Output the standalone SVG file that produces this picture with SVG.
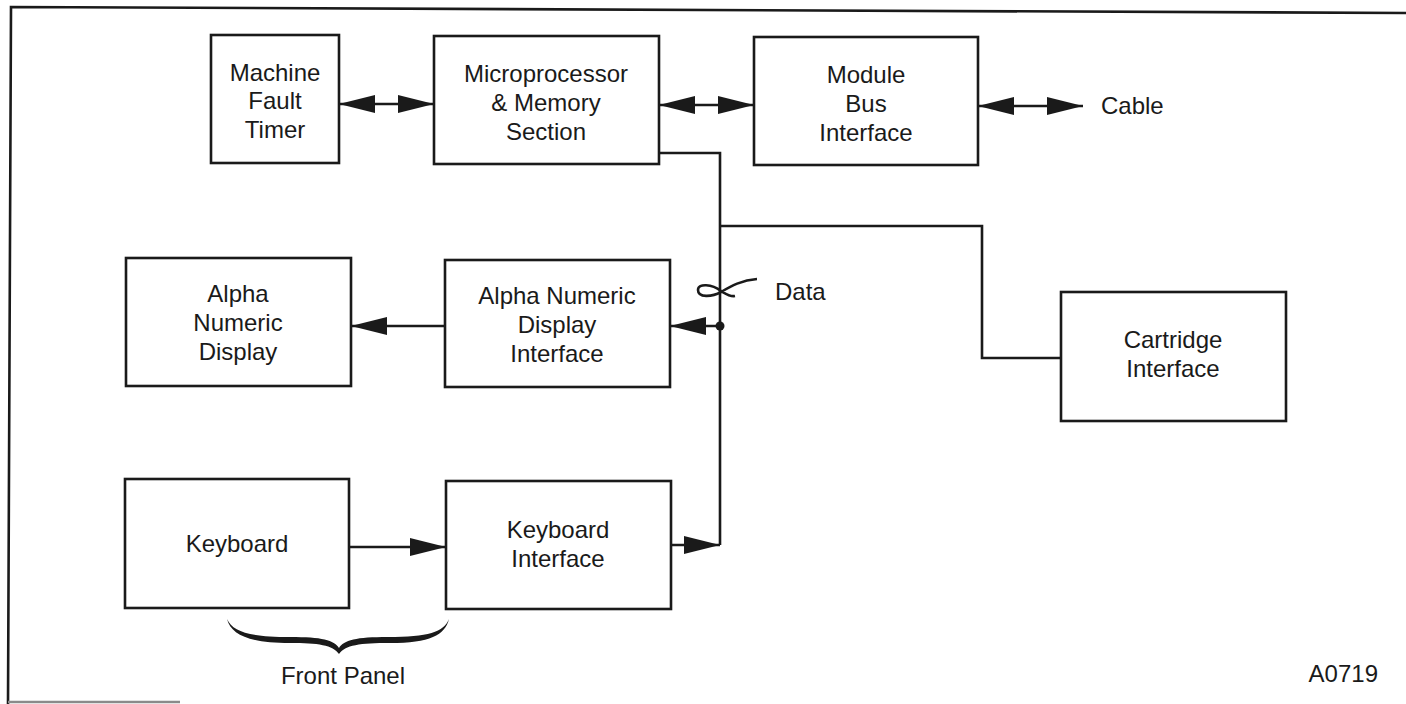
<svg xmlns="http://www.w3.org/2000/svg" width="1406" height="704" viewBox="0 0 1406 704">
<style>
  .box { fill: #ffffff; stroke: #1a1a1a; stroke-width: 2.6; }
  .lbl { font-family: "Liberation Sans", Arial, Helvetica, sans-serif; font-size: 24px; fill: #1a1a1a; text-anchor: middle; }
  .free { font-family: "Liberation Sans", Arial, Helvetica, sans-serif; font-size: 24px; fill: #1a1a1a; }
  .wire { fill: none; stroke: #1a1a1a; stroke-width: 2.6; }
</style>
<defs>
  <marker id="ah" markerUnits="userSpaceOnUse" markerWidth="37" markerHeight="20" refX="36" refY="10" orient="auto-start-reverse" viewBox="0 0 37 20">
    <path d="M0,1 L36,10 L0,19 Z" fill="#1a1a1a"/>
  </marker>
</defs>
<rect width="1406" height="704" fill="#ffffff"/>

<g id="frame" fill="none" stroke="#1a1a1a" stroke-width="2.6">
  <path d="M8,704 L11,7 L1406,13"/>
  <path d="M8,702 L180,702" stroke="#8a8a8a" stroke-width="2.4"/>
</g>

<g id="connectors">
  <path class="wire" d="M339,104 H434" marker-start="url(#ah)" marker-end="url(#ah)"/>
  <path class="wire" d="M659,105 H754" marker-start="url(#ah)" marker-end="url(#ah)"/>
  <path class="wire" d="M978,106 H1083" marker-start="url(#ah)" marker-end="url(#ah)"/>
  <path class="wire" d="M445,326 H351" marker-end="url(#ah)"/>
  <path class="wire" d="M720,326 H670" marker-end="url(#ah)"/>
  <circle cx="720" cy="326" r="4.5" fill="#1a1a1a"/>
  <path class="wire" d="M349,547 H446" marker-end="url(#ah)"/>
  <path class="wire" d="M671,545 H720" marker-end="url(#ah)"/>
  <path class="wire" d="M659,153 H720 V545"/>
  <path class="wire" d="M720,226 H982 V358 H1061"/>
  <path class="wire" stroke-width="2.4" d="M757,279 C742,280 731,286 721,292 C712,297 698,298 698,290 C698,283 712,284 721,291 C726,294 730,297 735,296"/>
  <text class="free" x="775" y="300">Data</text>
  <text class="free" x="1101" y="114">Cable</text>
</g>

<g id="mft">
  <rect class="box" x="211" y="35" width="128" height="128"/>
  <text class="lbl" x="275" y="81">Machine</text>
  <text class="lbl" x="275" y="109">Fault</text>
  <text class="lbl" x="275" y="138">Timer</text>
</g>
<g id="micro">
  <rect class="box" x="434" y="36" width="225" height="128"/>
  <text class="lbl" x="546" y="82">Microprocessor</text>
  <text class="lbl" x="546" y="111">&amp; Memory</text>
  <text class="lbl" x="546" y="140">Section</text>
</g>
<g id="module">
  <rect class="box" x="754" y="37" width="224" height="128"/>
  <text class="lbl" x="866" y="83">Module</text>
  <text class="lbl" x="866" y="112">Bus</text>
  <text class="lbl" x="866" y="141">Interface</text>
</g>
<g id="and">
  <rect class="box" x="126" y="258" width="225" height="128"/>
  <text class="lbl" x="238" y="302">Alpha</text>
  <text class="lbl" x="238" y="331">Numeric</text>
  <text class="lbl" x="238" y="360">Display</text>
</g>
<g id="andi">
  <rect class="box" x="445" y="260" width="225" height="127"/>
  <text class="lbl" x="557" y="304">Alpha Numeric</text>
  <text class="lbl" x="557" y="333">Display</text>
  <text class="lbl" x="557" y="362">Interface</text>
</g>
<g id="cartridge">
  <rect class="box" x="1061" y="292" width="225" height="129"/>
  <text class="lbl" x="1173" y="348">Cartridge</text>
  <text class="lbl" x="1173" y="377">Interface</text>
</g>
<g id="keyboard">
  <rect class="box" x="125" y="479" width="224" height="129"/>
  <text class="lbl" x="237" y="552">Keyboard</text>
</g>
<g id="kbif">
  <rect class="box" x="446" y="481" width="225" height="128"/>
  <text class="lbl" x="558" y="538">Keyboard</text>
  <text class="lbl" x="558" y="567">Interface</text>
</g>

<g id="frontpanel">
  <path fill="#1a1a1a" d="M227,619 C233,632 250,637 290,637 C322,637 334,640 339,648 C344,640 356,637 388,637 C428,637 444,632 449,619 C445,635 430,643 390,643 C360,643 345,645 339,654 C333,645 318,643 290,643 C250,643 231,635 227,619 Z"/>
  <text class="lbl" x="343" y="684">Front Panel</text>
</g>
<text class="free" x="1378" y="682" text-anchor="end">A0719</text>
</svg>
